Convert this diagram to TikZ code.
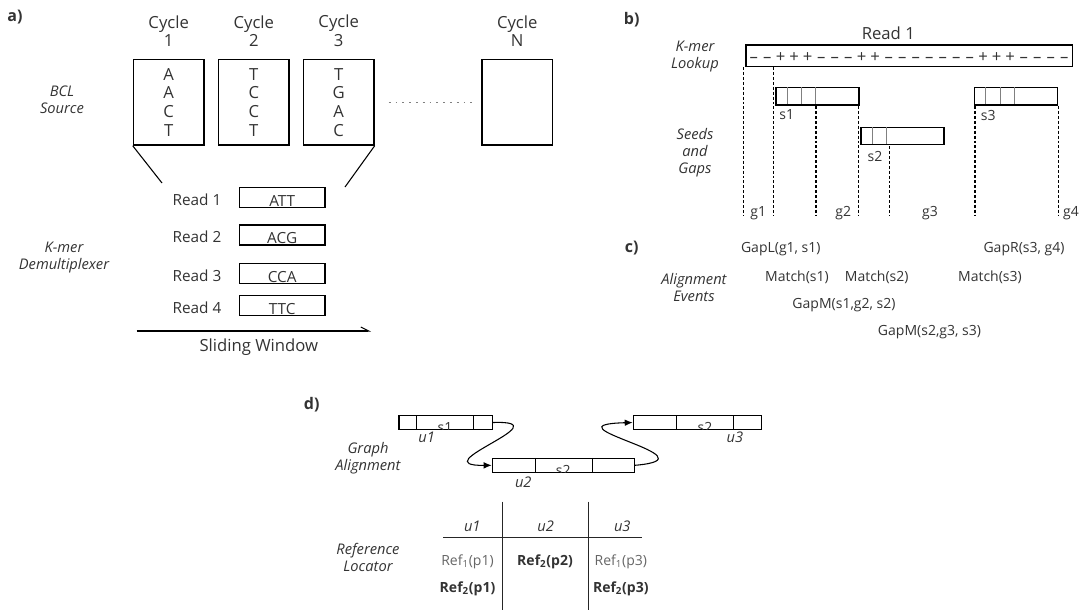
\documentclass[tikz,border=0pt]{standalone}
\usepackage{fontspec}
\setmainfont{Open Sans}
\usetikzlibrary{arrows.meta}
\definecolor{txt}{HTML}{333333}
\definecolor{lighttxt}{HTML}{666666}
\tikzset{
  every node/.style={text=txt},
  big/.style={font=\fontsize{12.5}{14}\selectfont, align=center, inner sep=0},
  mid/.style={font=\fontsize{11.5}{14}\selectfont, inner sep=0},
  small/.style={font=\fontsize{10.5}{13}\selectfont, inner sep=0},
  smallbold/.style={font=\fontsize{10.5}{13}\selectfont\bfseries, inner sep=0},
  ital/.style={font=\fontsize{11}{12.75}\selectfont\itshape, align=center, inner sep=0},
  panel/.style={font=\fontsize{12}{14}\selectfont\bfseries, inner sep=0},
  cyclebox/.style={draw=black, line width=1pt, minimum width=53pt, minimum height=64.3pt,
     align=center, font=\fontsize{12.5}{14}\selectfont, inner sep=0},
  readbox/.style={draw=black, line width=0.9pt, minimum width=64.3pt, minimum height=15pt, inner sep=0},
  seedbox/.style={draw=black, line width=0.9pt, minimum width=62.25pt, minimum height=13pt, inner sep=0},
  ubox/.style={draw=black, line width=0.9pt, minimum height=10.2pt, inner sep=0},
  tick/.style={draw=gray, line width=0.8pt},
  utick/.style={draw=black, line width=0.8pt},
  guide/.style={draw=black, line width=1pt, dash pattern=on 2.2pt off 1.5pt},
  thin/.style={draw=black, line width=0.8pt},
  flow/.style={draw=black, line width=0.8pt, -{Latex[length=6pt,width=5pt]}},
}
\begin{document}
\begin{tikzpicture}[x=0.75pt,y=-0.75pt]
\useasboundingbox (0,0) rectangle (1081,612);

% ---------------- panel a ----------------
\node[panel] (pa) at (15,17) {a)};
\node[big] (l1) at (168.7,31) {Cycle\\1};
\node[big] (l2) at (253.8,31) {Cycle\\2};
\node[big] (l3) at (338.7,31) {Cycle\\3};
\node[big] (lN) at (517.2,31) {Cycle\\N};
\node[cyclebox] (c1) at (168.7,102.2) {A\\A\\C\\T};
\node[cyclebox] (c2) at (253.8,102.2) {T\\C\\C\\T};
\node[cyclebox] (c3) at (338.7,102.2) {T\\G\\A\\C};
\node[cyclebox] (cN) at (517.2,102.2) {};
\draw[gray, line width=0.9pt, dash pattern=on 1.4pt off 3.7pt] ([xshift=10.5pt]c3.east) -- ([xshift=-3.75pt]cN.west);
\node[ital] (bcl) at (62,100) {BCL\\Source};

\coordinate (fa) at (162,183);
\coordinate (fb) at (345,187);
\draw[thin] (c1.south west) -- (fa);
\draw[thin] (c3.south east) -- (fb);

\node[mid] (r1) at (197,200) {Read 1};
\node[mid] (r2) at (197,236.7) {Read 2};
\node[mid] (r3) at (197,275.7) {Read 3};
\node[mid] (r4) at (197,307.7) {Read 4};
\node[readbox] (rb1) at (282.2,197.7) {};
\node[readbox] (rb2) at (282.2,235) {};
\node[readbox] (rb3) at (282.2,273.3) {};
\node[readbox] (rb4) at (282.2,305.7) {};
\node[mid] at ([yshift=-2.6pt]rb1.center) {ATT};
\node[mid] at ([yshift=-2.6pt]rb2.center) {ACG};
\node[mid] at ([yshift=-2.6pt]rb3.center) {CCA};
\node[mid] at ([yshift=-2.6pt]rb4.center) {TTC};
\node[ital] (kd) at (64,258) {K-mer\\Demultiplexer};

\coordinate (sw0) at (136.7,331);
\coordinate (sw1) at (371,331);
\draw[thin, -{Straight Barb[left,length=6pt,width=6pt]}] (sw0) -- (sw1);
\node[big] (swl) at (258.8,346.7) {Sliding Window};

% ---------------- panel b ----------------
\node[panel] (pb) at (631.7,20) {b)};
\node[big] (rdl) at (888.3,33) {Read 1};
\node[draw=black, line width=0.9pt, minimum width=244.7pt, minimum height=16.3pt, inner sep=0] (rd) at (909.2,55.8) {};
\foreach \c [count=\i from 0] in {–,–,+,+,+,–,–,–,+,+,–,–,–,–,–,–,–,+,+,+,–,–,–,–}
  \node[big, anchor=base] at ({747+(\i+0.5)*13.5},62.6) {\c};
\node[ital] (kl) at (695,56.5) {K-mer\\Lookup};

\node[seedbox] (s1b) at (817.5,96.3) {};
\node[seedbox] (s3b) at (1016.3,96.3) {};
\node[seedbox] (s2b) at (902.5,136) {};
\draw[tick] (s1b.north west) ++(11.7,0) -- ++(0,17.3);
\draw[tick] (s1b.north west) ++(25.7,0) -- ++(0,17.3);
\draw[tick] (s1b.north west) ++(40,0) -- ++(0,17.3);
\draw[tick] (s3b.north west) ++(11.7,0) -- ++(0,17.3);
\draw[tick] (s3b.north west) ++(26,0) -- ++(0,17.3);
\draw[tick] (s3b.north west) ++(40.7,0) -- ++(0,17.3);
\draw[tick] (s2b.north west) ++(11.7,0) -- ++(0,17.3);
\draw[tick] (s2b.north west) ++(26.3,0) -- ++(0,17.3);
\node[small] (s1l) at (786.7,115) {s1};
\node[small] (s3l) at (988.3,115) {s3};
\node[small] (s2l) at (875,156) {s2};
\node[ital] (sg) at (695,152.5) {Seeds\\and\\Gaps};

\draw[guide] (743.3,67) -- (743.3,216);
\draw[guide] (773.3,67) -- (773.3,216);
\draw[guide] (816,106) -- (816,216);
\draw[guide] (858.7,106) -- (858.7,216);
\draw[guide] (889.3,146) -- (889.3,216);
\draw[guide] (975,106) -- (975,216);
\draw[guide] (1058.3,106) -- (1058.3,216);
\node[small] (g1) at (758.3,213.3) {g1};
\node[small] (g2) at (843.3,213.3) {g2};
\node[small] (g3) at (930,213.3) {g3};
\node[small] (g4) at (1071,213.3) {g4};

% ---------------- panel c ----------------
\node[panel] (pc) at (631.7,248) {c)};
\node[small] (e1) at (780.8,249) {GapL(g1, s1)};
\node[small] (e2) at (1024,249) {GapR(s3, g4)};
\node[ital] (ae) at (694,287.5) {Alignment\\Events};
\node[small] (m1) at (797,277.3) {Match(s1)};
\node[small] (m2) at (876.7,277.3) {Match(s2)};
\node[small] (m3) at (990,277.3) {Match(s3)};
\node[small] (gm1) at (844,305) {GapM(s1,g2, s2)};
\node[small] (gm2) at (929.5,332.3) {GapM(s2,g3, s3)};

% ---------------- panel d ----------------
\node[panel] (pd) at (311.7,404.3) {d)};
\node[ubox, minimum width=70pt] (u1) at (445.7,422.5) {};
\node[ubox, minimum width=106.5pt] (u2) at (563.3,465.3) {};
\node[ubox, minimum width=96.3pt] (u3) at (697.5,422.5) {};
\draw[utick] (u1.north west) ++(18.3,0) -- ++(0,13.6);
\draw[utick] (u1.north west) ++(75.3,0) -- ++(0,13.6);
\draw[utick] (u2.north west) ++(43.4,0) -- ++(0,13.6);
\draw[utick] (u2.north west) ++(100.4,0) -- ++(0,13.6);
\draw[utick] (u3.north west) ++(43.4,0) -- ++(0,13.6);
\draw[utick] (u3.north west) ++(100.7,0) -- ++(0,13.6);
\begin{scope}
  \clip (u1.south west) rectangle (u1.north east);
  \node[small, anchor=base] at (445,432.5) {s1};
\end{scope}
\begin{scope}
  \clip (u2.south west) rectangle (u2.north east);
  \node[small, anchor=base] at (563.3,475.3) {s2};
\end{scope}
\begin{scope}
  \clip (u3.south west) rectangle (u3.north east);
  \node[small, anchor=base] at (705,432.5) {s2};
\end{scope}
\node[ital] (u1l) at (426.7,437.7) {u1};
\node[ital] (u2l) at (523.3,482.3) {u2};
\node[ital] (u3l) at (735,437.7) {u3};
\node[ital] (ga) at (368,458) {Graph\\Alignment};
\draw[flow] (u1.east) .. controls (565,420) and (420,466) .. (u2.west);
\draw[flow] (u2.east) .. controls (720,458) and (540,425) .. (u3.west);

% table
\coordinate (v1t) at (502.7,501.7);
\coordinate (v1b) at (502.7,610);
\coordinate (v2t) at (588.3,501.7);
\coordinate (v2b) at (588.3,610);
\coordinate (hl) at (443.3,537.7);
\coordinate (hr) at (641.7,537.7);
\draw[draw=black!85, line width=1pt] (v1t) -- (v1b);
\draw[draw=black!85, line width=1pt] (v2t) -- (v2b);
\draw[draw=black!85, line width=1pt] (hl) -- (hr);
\node[ital] (h1) at (472.3,526) {u1};
\node[ital] (h2) at (545.7,526) {u2};
\node[ital] (h3) at (622.3,526) {u3};
\node[small, text=lighttxt] (t11) at (467.5,561.7) {Ref\textsubscript{1}(p1)};
\node[smallbold] (t12) at (545,561.7) {Ref\textsubscript{2}(p2)};
\node[small, text=lighttxt] (t13) at (620.8,561.7) {Ref\textsubscript{1}(p3)};
\node[smallbold] (t21) at (467.5,589) {Ref\textsubscript{2}(p1)};
\node[smallbold] (t23) at (620.8,589) {Ref\textsubscript{2}(p3)};
\node[ital] (rl) at (368,557) {Reference\\Locator};
\end{tikzpicture}
\end{document}
